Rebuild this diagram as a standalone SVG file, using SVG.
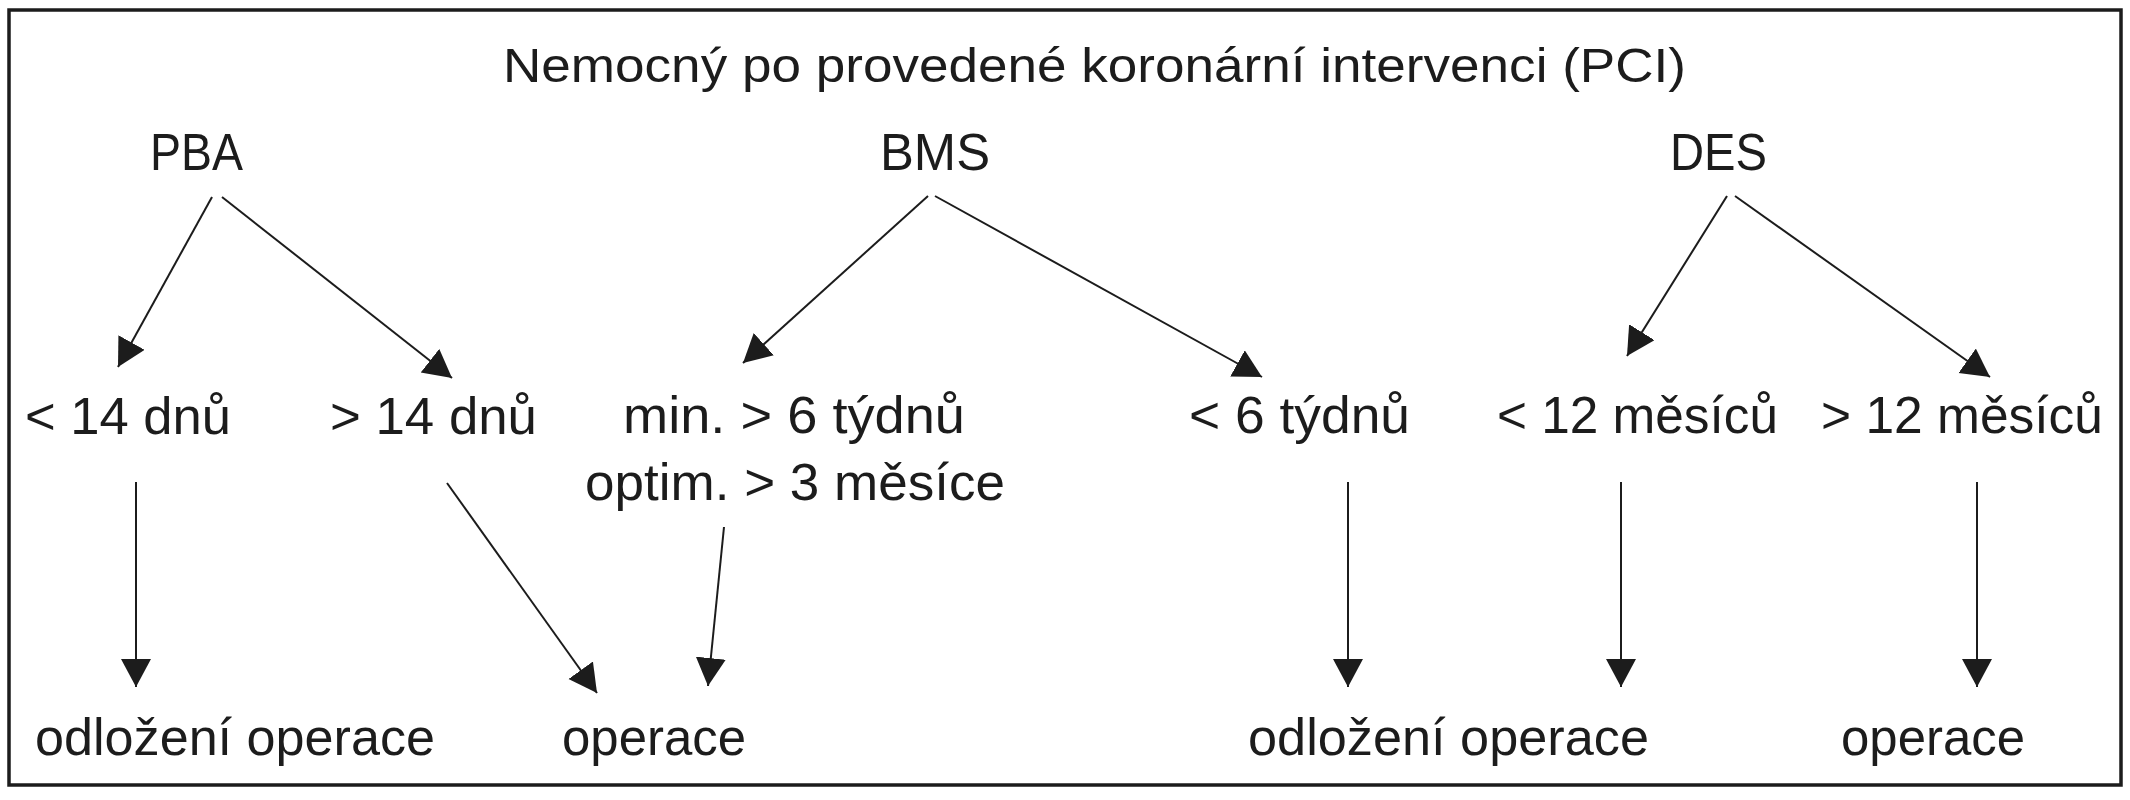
<svg xmlns="http://www.w3.org/2000/svg" width="2130" height="800" viewBox="0 0 2130 800">
<style>
  text { font-family: "Liberation Sans", Arial, sans-serif; fill: #1c1c1c; font-size: 52px; }
  .title { font-size: 49px; }
  .conn line { stroke: #1c1c1c; stroke-width: 2; fill: none; marker-end: url(#arrow); }
  .frame { fill: #ffffff; stroke: #1c1c1c; stroke-width: 3.5; }
</style>
<defs>
  <marker id="arrow" markerUnits="userSpaceOnUse" markerWidth="30" markerHeight="32" refX="28" refY="15" orient="auto">
    <path d="M0,0 L28,15 L0,30 Z" fill="#1c1c1c"/>
  </marker>
</defs>
<rect width="2130" height="800" fill="#ffffff"/>
<rect class="frame" x="9" y="10" width="2112" height="775"/>

<g id="title"><text class="title" x="503" y="82" textLength="1183" lengthAdjust="spacingAndGlyphs">Nemocný po provedené koronární intervenci (PCI)</text></g>

<g id="pba"><text x="150" y="170" textLength="93" lengthAdjust="spacingAndGlyphs">PBA</text></g>
<g id="bms"><text x="880" y="170" textLength="110" lengthAdjust="spacingAndGlyphs">BMS</text></g>
<g id="des"><text x="1670" y="170" textLength="97" lengthAdjust="spacingAndGlyphs">DES</text></g>

<g id="pba-lt14"><text x="25" y="434" textLength="206" lengthAdjust="spacingAndGlyphs">&lt; 14 dnů</text></g>
<g id="pba-gt14"><text x="330" y="434" textLength="207" lengthAdjust="spacingAndGlyphs">&gt; 14 dnů</text></g>
<g id="bms-min">
  <text x="623" y="433" textLength="342" lengthAdjust="spacingAndGlyphs">min. &gt; 6 týdnů</text>
  <text x="585" y="500" textLength="420" lengthAdjust="spacingAndGlyphs">optim. &gt; 3 měsíce</text>
</g>
<g id="bms-lt6"><text x="1189" y="433" textLength="221" lengthAdjust="spacingAndGlyphs">&lt; 6 týdnů</text></g>
<g id="des-lt12"><text x="1497" y="433" textLength="281" lengthAdjust="spacingAndGlyphs">&lt; 12 měsíců</text></g>
<g id="des-gt12"><text x="1821" y="433" textLength="282" lengthAdjust="spacingAndGlyphs">&gt; 12 měsíců</text></g>

<g id="out-odlozeni-1"><text x="35" y="755" textLength="400" lengthAdjust="spacingAndGlyphs">odložení operace</text></g>
<g id="out-operace-1"><text x="562" y="755" textLength="184" lengthAdjust="spacingAndGlyphs">operace</text></g>
<g id="out-odlozeni-2"><text x="1248" y="755" textLength="401" lengthAdjust="spacingAndGlyphs">odložení operace</text></g>
<g id="out-operace-2"><text x="1841" y="755" textLength="184" lengthAdjust="spacingAndGlyphs">operace</text></g>

<g id="connectors" class="conn">
  <line x1="212" y1="197" x2="118" y2="367"/>
  <line x1="222" y1="197" x2="452" y2="378"/>
  <line x1="928" y1="196" x2="743" y2="363"/>
  <line x1="935" y1="196" x2="1262" y2="377"/>
  <line x1="1727" y1="196" x2="1627" y2="356"/>
  <line x1="1735" y1="196" x2="1990" y2="377"/>
  <line x1="136" y1="482" x2="136" y2="687"/>
  <line x1="447" y1="483" x2="597" y2="693"/>
  <line x1="724" y1="527" x2="708" y2="686"/>
  <line x1="1348" y1="482" x2="1348" y2="687"/>
  <line x1="1621" y1="482" x2="1621" y2="687"/>
  <line x1="1977" y1="482" x2="1977" y2="687"/>
</g>
</svg>
